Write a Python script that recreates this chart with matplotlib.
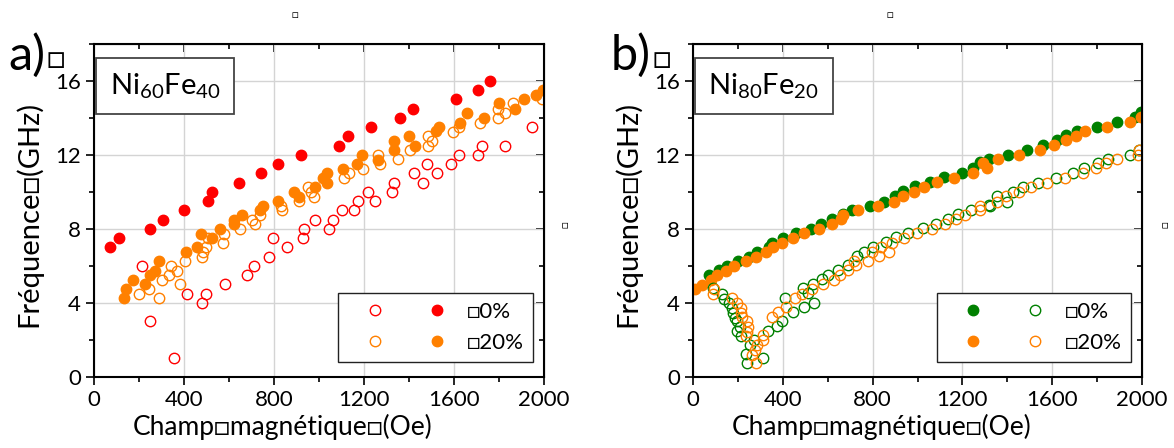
import matplotlib
matplotlib.use('Agg')
import matplotlib.pyplot as plt
from matplotlib.legend_handler import HandlerTuple
from matplotlib.ticker import MultipleLocator

plt.rcParams['font.family'] = ['Lato', 'DejaVu Sans']
plt.rcParams['mathtext.fontset'] = 'custom'
plt.rcParams['mathtext.rm'] = 'Lato'
plt.rcParams['mathtext.it'] = 'Lato:italic'

TOFU = '\u25a1'

RED = '#ff0000'
ORANGE = '#ff8000'
GREEN = '#008000'

# ---- a) Ni60Fe40 ----
a_red_fill_x = [71, 113, 249, 305, 398, 505, 523, 646, 742, 818, 918, 1090, 1127, 1231, 1361, 1416, 1610, 1708, 1761]
a_red_fill_y = [7.0, 7.5, 8.0, 8.5, 9.0, 9.5, 10.0, 10.5, 11.0, 11.5, 12.0, 12.5, 13.0, 13.5, 14.0, 14.5, 15.0, 15.5, 16.0]

a_red_open_x = [212, 250, 354, 413, 481, 499, 582, 678, 711, 776, 797, 858, 927, 933, 982, 1046, 1064, 1101, 1156,
                1172, 1216, 1250, 1323, 1332, 1424, 1461, 1480, 1523, 1585, 1621, 1707, 1723, 1825, 1947]
a_red_open_y = [6.0, 3.0, 1.0, 4.5, 4.0, 4.5, 5.0, 5.5, 6.0, 6.5, 7.5, 7.0, 7.5, 8.0, 8.5, 8.0, 8.5, 9.0, 9.0,
                9.5, 10.0, 9.5, 10.0, 10.5, 11.0, 10.5, 11.5, 11.0, 11.5, 12.0, 12.0, 12.5, 12.5, 13.5]

a_or_fill_x = [135, 142, 172, 227, 249, 271, 289, 409, 456, 474, 524, 560, 621, 621, 656, 738, 753, 816, 887, 911,
               984, 1019, 1036, 1037, 1105, 1167, 1190, 1262, 1335, 1335, 1401, 1427, 1519, 1535, 1628, 1658, 1735,
               1798, 1870, 1912, 1963, 1995]
a_or_fill_y = [4.25, 4.75, 5.25, 5.0, 5.5, 5.75, 6.25, 6.75, 7.0, 7.75, 7.5, 8.0, 8.25, 8.5, 8.75, 9.0, 9.25, 9.5, 10.0, 9.75,
               10.25, 10.75, 11.0, 10.5, 11.25, 11.5, 12.0, 11.75, 12.25, 12.75, 13.0, 12.5, 13.3, 13.5, 13.75, 14.25, 14.0,
               14.8, 14.5, 15.0, 15.25, 15.5]

a_or_open_x = [201, 246, 287, 301, 335, 341, 370, 381, 404, 480, 486, 498, 505, 572, 578, 650, 703, 714, 738, 836, 833,
               911, 950, 966, 979, 1113, 1135, 1197, 1264, 1271, 1350, 1404, 1486, 1486, 1504, 1594, 1624, 1714, 1794,
               1797, 1828, 1861, 1990]
a_or_open_y = [4.5, 4.75, 4.25, 5.25, 5.5, 6.0, 5.75, 5.0, 6.25, 6.5, 6.75, 7.0, 7.5, 7.25, 7.75, 8.0, 8.5, 8.25, 8.75, 9.0, 9.25,
               9.5, 10.25, 10.0, 9.75, 10.75, 11.0, 11.25, 12.0, 11.5, 11.8, 12.25, 12.5, 13.0, 12.75, 13.25, 13.5, 13.75, 14.0,
               14.5, 14.25, 14.8, 15.0]

# ---- b) Ni80Fe20 ----
b_gr_fill_x = [71, 116, 153, 199, 249, 286, 339, 353, 400, 459, 526, 570, 618, 670, 707, 788, 851, 900, 934, 990,
               1056, 1119, 1198, 1246, 1276, 1320, 1405, 1489, 1558, 1620, 1660, 1709, 1801, 1887, 1969, 1995]
b_gr_fill_y = [5.5, 5.8, 6.0, 6.27, 6.5, 6.77, 7.05, 7.26, 7.53, 7.8, 8.0, 8.27, 8.54, 8.8, 9.03, 9.26, 9.48, 9.78, 10.07, 10.3,
               10.56, 10.8, 11.0, 11.3, 11.6, 11.8, 12.0, 12.27, 12.56, 12.8, 13.08, 13.3, 13.5, 13.77, 14.07, 14.3]

b_or_fill_x = [9, 42, 80, 108, 147, 184, 235, 281, 324, 358, 398, 444, 496, 563, 619, 659, 670, 736, 823, 895, 937,
               984, 1029, 1085, 1163, 1249, 1293, 1311, 1360, 1452, 1546, 1609, 1661, 1706, 1746, 1843, 1947, 1995]
b_or_fill_y = [4.75, 4.97, 5.24, 5.5, 5.75, 6.0, 6.27, 6.5, 6.77, 7.0, 7.26, 7.53, 7.77, 8.0, 8.27, 8.54, 8.76, 9.0, 9.26, 9.48, 9.78,
               10.0, 10.29, 10.52, 10.77, 11.04, 11.55, 11.28, 11.77, 12.02, 12.27, 12.52, 12.8, 13.05, 13.3, 13.53, 13.8, 14.04]

b_gr_open_x = [91, 128, 140, 162, 175, 180, 187, 197, 197, 209, 212, 236, 242, 254, 272, 310, 335, 373, 395, 410, 444,
               491, 494, 514, 536, 540, 573, 603, 645, 692, 729, 762, 803, 858, 904, 959, 1026, 1081, 1137, 1179, 1238,
               1320, 1323, 1355, 1397, 1424, 1469, 1535, 1616, 1694, 1743, 1803, 1850, 1947, 1988]
b_gr_open_y = [4.8, 4.47, 4.2, 3.98, 3.71, 3.44, 3.17, 3.0, 2.48, 2.72, 2.2, 1.24, 0.74, 1.73, 2.0, 1.0, 2.5, 2.76, 3.05, 4.25, 3.53,
               4.8, 3.77, 4.52, 5.03, 4.02, 5.3, 5.51, 5.78, 6.05, 6.54, 6.77, 7.04, 7.28, 7.55, 7.8, 8.04, 8.27, 8.54, 8.79, 9.03,
               9.3, 9.24, 9.78, 9.48, 10.02, 10.29, 10.5, 10.77, 11.0, 11.28, 11.55, 11.77, 12.0, 12.27]

b_or_open_x = [91, 95, 175, 194, 214, 214, 217, 239, 244, 236, 239, 261, 279, 276, 286, 310, 313, 353, 380, 413, 454,
               484, 529, 580, 628, 655, 689, 717, 726, 778, 796, 830, 837, 873, 885, 941, 996, 1063, 1122, 1170, 1212,
               1276, 1278, 1355, 1393, 1452, 1506, 1575, 1657, 1738, 1795, 1838, 1887, 1984, 1988]
b_or_open_y = [4.48, 4.74, 4.25, 3.98, 3.75, 3.48, 3.22, 3.0, 2.72, 2.22, 2.45, 1.19, 0.74, 1.46, 1.73, 2.0, 2.27, 3.22, 3.5, 3.77, 4.25,
               4.48, 4.74, 5.01, 5.24, 5.51, 5.78, 6.29, 6.05, 6.29, 6.77, 6.54, 7.04, 6.77, 7.26, 7.53, 7.77, 8.0, 8.27, 8.54, 8.76,
               9.03, 9.24, 9.48, 9.78, 10.02, 10.29, 10.5, 10.77, 11.04, 11.28, 11.55, 11.77, 12.0, 12.27]

legend_labels = [TOFU + '0%', TOFU + '20%']

MS = 7.5


def filled(ax, x, y, c):
    return ax.plot(x, y, 'o', ls='none', ms=MS, color=c, mec=c)[0]


def hollow(ax, x, y, c):
    return ax.plot(x, y, 'o', ls='none', ms=MS, mfc='none', mec=c, mew=1.0)[0]


def style_axes(ax):
    ax.set_xlim(0, 2000)
    ax.set_ylim(0, 18)
    ax.xaxis.set_major_locator(MultipleLocator(400))
    ax.xaxis.set_minor_locator(MultipleLocator(200))
    ax.yaxis.set_major_locator(MultipleLocator(4))
    ax.yaxis.set_minor_locator(MultipleLocator(2))
    ax.grid(True, which='major', color='#d4d4d4', lw=1)
    ax.set_axisbelow(True)
    ax.tick_params(which='both', direction='out', labelsize=16, width=1.2, colors='black')
    ax.tick_params(which='major', length=6)
    ax.tick_params(which='minor', length=3.5)
    for s in ax.spines.values():
        s.set_linewidth(1.5)
    # top / right ticks point inward
    top = ax.secondary_xaxis('top')
    top.xaxis.set_major_locator(MultipleLocator(400))
    top.xaxis.set_minor_locator(MultipleLocator(200))
    top.tick_params(which='both', direction='in', labeltop=False, width=1.2)
    top.tick_params(which='major', length=6)
    top.tick_params(which='minor', length=3.5)
    right = ax.secondary_yaxis('right')
    right.yaxis.set_major_locator(MultipleLocator(4))
    right.yaxis.set_minor_locator(MultipleLocator(2))
    right.tick_params(which='both', direction='in', labelright=False, width=1.2)
    right.tick_params(which='major', length=6)
    right.tick_params(which='minor', length=3.5)
    ax.set_xlabel('Champ' + TOFU + 'magnétique' + TOFU + '(Oe)', fontsize=19)
    ax.xaxis.set_label_coords(0.42, -0.11)
    ax.set_ylabel('Fréquence' + TOFU + '(GHz)', fontsize=21)
    ax.yaxis.set_label_coords(-0.115, 0.49)


def sample_box(ax, txt):
    ax.text(0.158, 0.874, txt, transform=ax.transAxes, ha='center', va='center', fontsize=21,
            bbox=dict(boxstyle='square,pad=0.45', fc='white', ec='#444444', lw=1.3))


def add_legend(ax, pairs):
    ax.legend(pairs, legend_labels, handler_map={tuple: HandlerTuple(ndivide=None, pad=0.3)},
              loc='lower right', bbox_to_anchor=(0.976, 0.045), borderaxespad=0,
              fontsize=16, handlelength=5.3, handletextpad=0.1, labelspacing=0.5, borderpad=0.4,
              frameon=True, fancybox=False, edgecolor='#222222', framealpha=1)


def main():
    fig = plt.figure(figsize=(11.74, 4.48), dpi=100)
    ax1 = fig.add_axes([0.0801, 0.1585, 0.3833, 0.7433])
    ax2 = fig.add_axes([0.5903, 0.1585, 0.3825, 0.7433])

    # panel a
    ro = hollow(ax1, a_red_open_x, a_red_open_y, RED)
    rf = filled(ax1, a_red_fill_x, a_red_fill_y, RED)
    oo = hollow(ax1, a_or_open_x, a_or_open_y, ORANGE)
    of = filled(ax1, a_or_fill_x, a_or_fill_y, ORANGE)
    style_axes(ax1)
    sample_box(ax1, r'Ni$_{\mathrm{60}}$Fe$_{\mathrm{40}}$')
    add_legend(ax1, [(ro, rf), (oo, of)])

    # panel b
    gf = filled(ax2, b_gr_fill_x, b_gr_fill_y, GREEN)
    of2 = filled(ax2, b_or_fill_x, b_or_fill_y, ORANGE)
    go = hollow(ax2, b_gr_open_x, b_gr_open_y, GREEN)
    oo2 = hollow(ax2, b_or_open_x, b_or_open_y, ORANGE)
    style_axes(ax2)
    sample_box(ax2, r'Ni$_{\mathrm{80}}$Fe$_{\mathrm{20}}$')
    add_legend(ax2, [(gf, go), (of2, oo2)])

    # panel letters and stray glyphs
    fig.text(8 / 1174, 1 - 70 / 448, 'a)', fontsize=35, va='baseline')
    fig.text(47 / 1174, 1 - 68 / 448, TOFU, fontsize=22, va='baseline')
    fig.text(611 / 1174, 1 - 70 / 448, 'b)', fontsize=35, va='baseline')
    fig.text(653 / 1174, 1 - 68 / 448, TOFU, fontsize=22, va='baseline')
    for x in (295, 890):
        fig.text(x / 1174, 1 - 15 / 448, TOFU, fontsize=8, ha='center', va='center')
    for x in (565, 1165):
        fig.text(x / 1174, 1 - 225 / 448, TOFU, fontsize=8, ha='center', va='center', rotation=90)

    fig.savefig('out.png', dpi=100)


if __name__ == '__main__':
    main()
